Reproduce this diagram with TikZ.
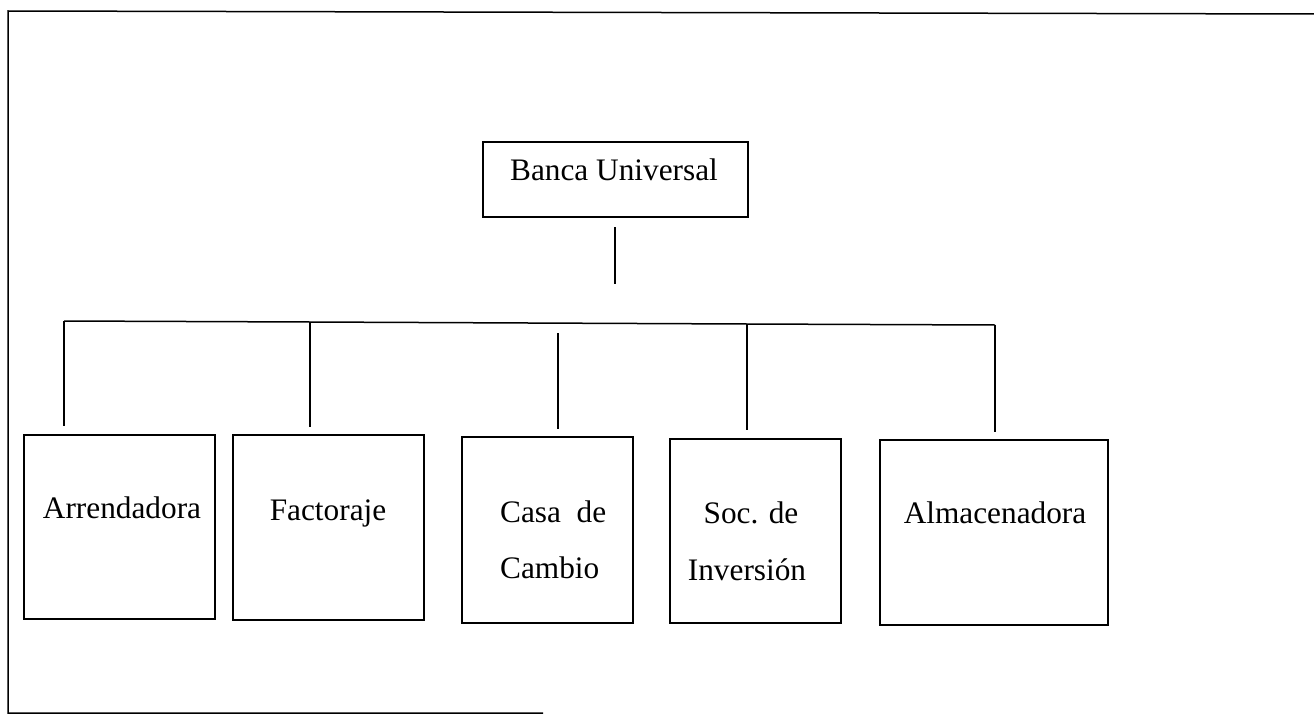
\documentclass[tikz,border=0pt]{standalone}
\usepackage{fontspec}
\setmainfont{Liberation Serif}
\newcommand{\lblfont}{\fontsize{31.3}{37}\selectfont}
\begin{document}
\begin{tikzpicture}[x=1pt,y=-1pt,
  box/.style={draw, line width=1.5pt, inner sep=0pt, rectangle},
  lbl/.style={anchor=base, inner sep=0pt, font=\lblfont},
  conn/.style={line width=1.5pt}]
\useasboundingbox (0,0) rectangle (1314,717);
% outer frame (partial)
\coordinate (ftl) at (8,11);
\coordinate (ftr) at (1314,14);
\coordinate (fbl) at (8,713);
\coordinate (fbr) at (543,713);
\draw[conn] (ftr) -- (ftl) -- (fbl) -- (fbr);
% top box
\node[box, minimum width=265pt, minimum height=75pt] (banca) at (615.5,179.5) {};
\node[lbl] (tbanca) at (614,180) {Banca Universal};
% child boxes
\node[box, minimum width=191pt, minimum height=184pt] (arr) at (119.5,527) {};
\node[box, minimum width=191pt, minimum height=185pt] (fac) at (328.5,527.5) {};
\node[box, minimum width=171pt, minimum height=186pt] (casa) at (547.5,530) {};
\node[box, minimum width=171pt, minimum height=184pt] (soc) at (755.5,531) {};
\node[box, minimum width=228pt, minimum height=185pt] (alm) at (994,532.5) {};
% labels
\node[lbl] (tarr) at (122,518) {Arrendadora};
\node[lbl] (tfac) at (328,520) {Factoraje};
\node[lbl, anchor=base west] (tcasa1) at (500,522) {Casa\ \ de};
\node[lbl, anchor=base west] (tcasa2) at (500,578) {Cambio};
\node[lbl] (tsoc1) at (751,523) {Soc. de};
\node[lbl] (tsoc2) at (747,580) {Inversión};
\node[lbl] (talm) at (995,523) {Almacenadora};
% connectors
\coordinate (v1) at (615,227);
\coordinate (v2) at (615,284);
\draw[conn] (v1) -- (v2);
\coordinate (h1) at (64,321);
\coordinate (h2) at (310,322);
\coordinate (h3) at (747,324);
\coordinate (h4) at (995,325);
\draw[conn] (h1) -- (h2) -- (h3) -- (h4);
\draw[conn] (h1) -- (64,426);
\draw[conn] (h2) -- (310,427);
\draw[conn] (558,333) -- (558,429);
\draw[conn] (h3) -- (747,430);
\draw[conn] (h4) -- (995,432);
\end{tikzpicture}
\end{document}
